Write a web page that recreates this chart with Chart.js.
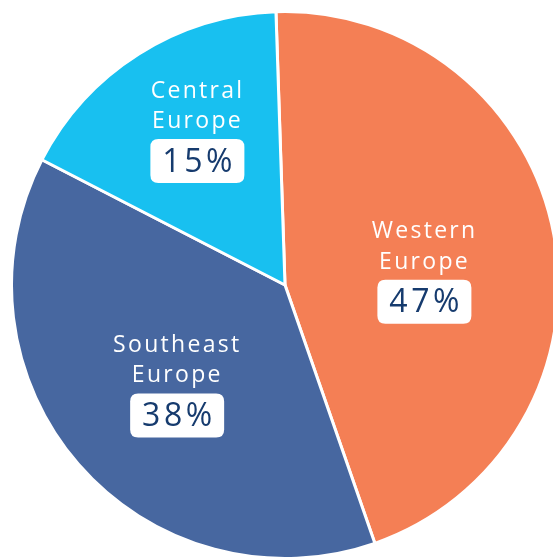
<!DOCTYPE html>
<html>
<head>
<meta charset="utf-8">
<script src="https://cdn.jsdelivr.net/npm/chart.js@4"></script>
<style>
  html, body { margin: 0; padding: 0; width: 553px; height: 558px; overflow: hidden; background: #ffffff; }
  #wrap { position: absolute; left: 10px; top: 10px; width: 550px; height: 550px; }
</style>
</head>
<body>
<div id="wrap"><canvas id="c" width="550" height="550"></canvas></div>
<script>
const regionLine1 = ['Western', 'Southeast', 'Central'];
const regionLine2 = ['Europe', 'Europe', 'Europe'];
const shares = [45.2, 37.9, 16.9];
const percentLabels = ['47%', '38%', '15%'];
const sliceColors = ['#F47F55', '#4767A0', '#18C0F0'];

// label anchor positions (fraction of radius, relative to centre)
const labelAnchors = [[0.506, -0.089], [-0.398, 0.327], [-0.324, -0.603]];

function spacedText(ctx, text, cx, y, spacing) {
  const chars = Array.from(text);
  let total = 0;
  const widths = chars.map(ch => { const w = ctx.measureText(ch).width; total += w; return w; });
  total += spacing * (chars.length - 1);
  let x = cx - total / 2;
  ctx.textAlign = 'left';
  chars.forEach((ch, i) => { ctx.fillText(ch, x, y); x += widths[i] + spacing; });
}

function roundRect(ctx, x, y, w, h, r) {
  ctx.beginPath();
  ctx.moveTo(x + r, y);
  ctx.lineTo(x + w - r, y);
  ctx.quadraticCurveTo(x + w, y, x + w, y + r);
  ctx.lineTo(x + w, y + h - r);
  ctx.quadraticCurveTo(x + w, y + h, x + w - r, y + h);
  ctx.lineTo(x + r, y + h);
  ctx.quadraticCurveTo(x, y + h, x, y + h - r);
  ctx.lineTo(x, y + r);
  ctx.quadraticCurveTo(x, y, x + r, y);
  ctx.closePath();
}

const labelPlugin = {
  id: 'sliceLabels',
  afterDatasetsDraw(chart) {
    const ctx = chart.ctx;
    const meta = chart.getDatasetMeta(0);
    meta.data.forEach((arc, i) => {
      const cx = arc.x + labelAnchors[i][0] * arc.outerRadius;
      const cy = arc.y + labelAnchors[i][1] * arc.outerRadius;
      ctx.save();
      ctx.fillStyle = '#ffffff';
      ctx.font = '400 23px "Open Sans", "Noto Sans", sans-serif';
      ctx.textBaseline = 'alphabetic';
      spacedText(ctx, regionLine1[i], cx, cy - 22.5, 2.3);
      spacedText(ctx, regionLine2[i], cx, cy + 8, 2.3);
      // white box
      const bw = 94, bh = 44;
      roundRect(ctx, cx - bw / 2 + 1, cy + 19, bw, bh, 8);
      ctx.fillStyle = '#ffffff';
      ctx.fill();
      ctx.fillStyle = '#163B6E';
      ctx.font = '400 32px "Open Sans", "Noto Sans", sans-serif';
      spacedText(ctx, percentLabels[i], cx + 1, cy + 51.5, 3.5);
      ctx.restore();
    });
  }
};

new Chart(document.getElementById('c'), {
  type: 'pie',
  data: {
    labels: regionLine1.map((l, i) => l + ' ' + regionLine2[i]),
    datasets: [{
      data: shares,
      backgroundColor: sliceColors,
      borderColor: '#ffffff',
      borderWidth: 3,
      hoverOffset: 0
    }]
  },
  options: {
    responsive: false,
    devicePixelRatio: 1,
    animation: false,
    rotation: -1.9,
    layout: { padding: 0 },
    plugins: {
      legend: { display: false },
      tooltip: { enabled: false }
    },
    events: []
  },
  plugins: [labelPlugin]
});
</script>
</body>
</html>
